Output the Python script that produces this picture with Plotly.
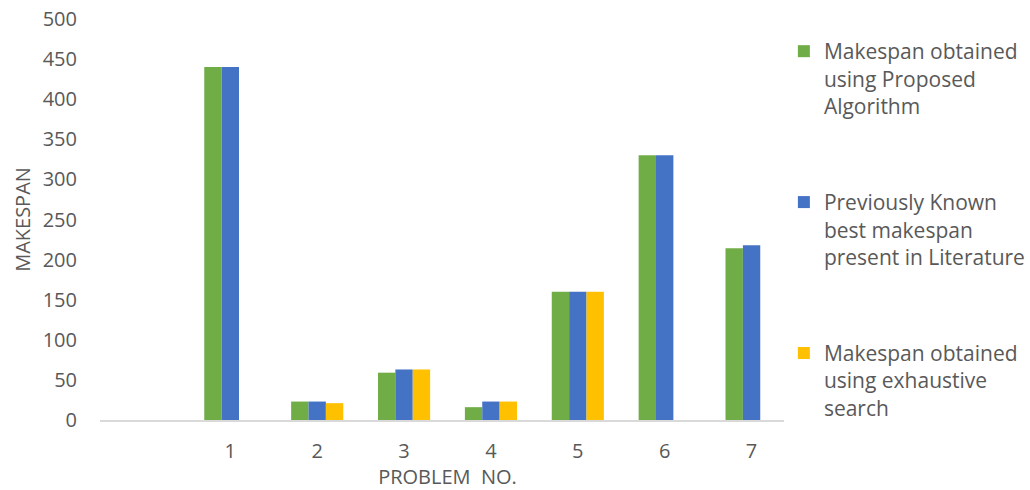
import plotly.graph_objects as go

# Problem numbers and makespan values per method
problems = [1, 2, 3, 4, 5, 6, 7]
proposed = [440, 23, 59, 16, 160, 330, 214]
literature = [440, 23, 63, 23, 160, 330, 218]
exhaustive = [None, 21, 63, 23, 160, None, None]

series_names = [
    "Makespan obtained<br>using Proposed<br>Algorithm",
    "Previously Known<br>best makespan<br>present in Literature",
    "Makespan obtained<br>using exhaustive<br>search",
]
series_colors = ["#70AD47", "#4472C4", "#FFC000"]
y_ticks = [0, 50, 100, 150, 200, 250, 300, 350, 400, 450, 500]

FONT = "Open Sans"
GREY = "#595959"

fig = go.Figure()
for i, (name, vals, col) in enumerate(zip(series_names, [proposed, literature, exhaustive], series_colors)):
    fig.add_trace(go.Bar(
        x=problems, y=vals, name=name,
        marker=dict(color=col, line=dict(width=0)),
        legendgroup=f"g{i}",
    ))

fig.update_layout(
    width=1030, height=490,
    margin=dict(l=100, r=235, t=19, b=70, autoexpand=False),
    paper_bgcolor="white", plot_bgcolor="white",
    barmode="group", bargap=0.4, bargroupgap=0,
    font=dict(family=FONT, color=GREY),
    showlegend=True,
    legend=dict(
        x=0.984, xanchor="left", y=0.97, yanchor="top",
        font=dict(family=FONT, size=21, color=GREY),
        traceorder="grouped", tracegroupgap=66,
        itemwidth=30, valign="top",
    ),
    xaxis=dict(
        range=[-0.5, 7.5], tickmode="array", tickvals=problems,
        ticktext=[str(p) for p in problems],
        showgrid=False, zeroline=False,
        showline=True, linecolor="#d9d9d9", linewidth=1.5,
        ticks="", tickfont=dict(size=20, color=GREY),
        ticklabelstandoff=12,
        title=dict(text="PROBLEM  NO.", font=dict(size=20, color=GREY), standoff=4),
    ),
    yaxis=dict(
        range=[0, 500], tickmode="array", tickvals=y_ticks,
        showgrid=False, zeroline=False, showline=False,
        ticks="", tickfont=dict(size=20, color=GREY),
        ticklabelstandoff=22,
        title=dict(text="MAKESPAN", font=dict(size=20, color=GREY), standoff=6),
    ),
)

fig.write_html("out.html")
